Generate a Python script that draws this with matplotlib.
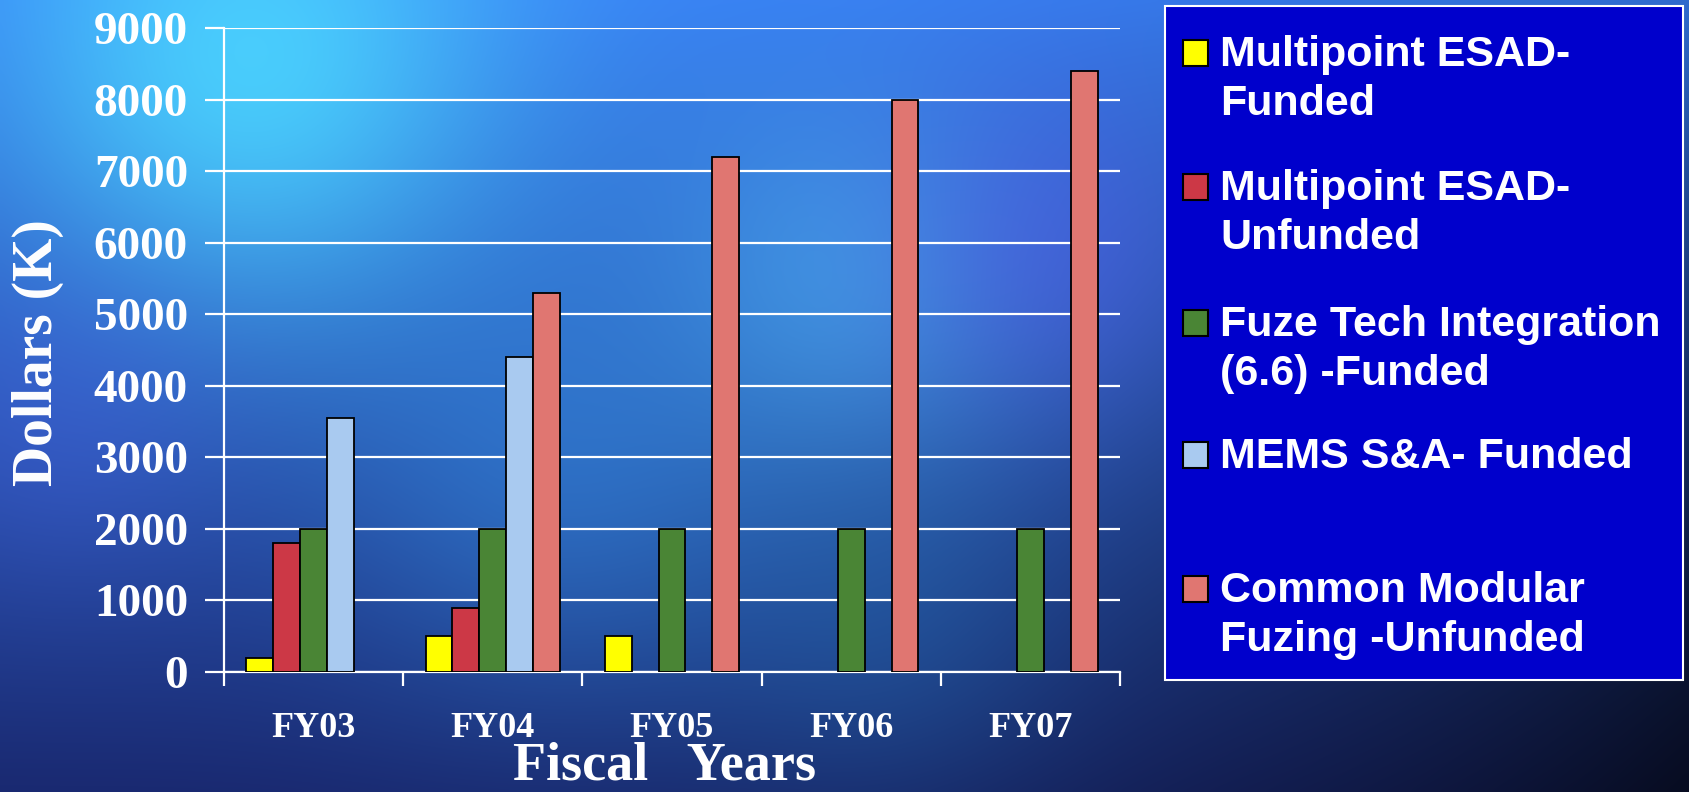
import numpy as np
import matplotlib
matplotlib.use("Agg")
import matplotlib.pyplot as plt
from matplotlib.patches import Rectangle

W, H = 1689, 792

years = ["FY03", "FY04", "FY05", "FY06", "FY07"]
series = ["Multipoint ESAD-\nFunded",
          "Multipoint ESAD-\nUnfunded",
          "Fuze Tech Integration\n(6.6) -Funded",
          "MEMS S&A- Funded",
          "Common Modular\nFuzing -Unfunded"]
esad_funded = [200, 500, 500, 0, 0]
esad_unfunded = [1800, 900, 0, 0, 0]
fuze_tech = [2000, 2000, 2000, 2000, 2000]
mems = [3550, 4400, 0, 0, 0]
cmf = [0, 5300, 7200, 8000, 8400]
colors = ["#FFFF00", "#CC3846", "#4A8535", "#A9CAF0", "#E07671"]

# legend row anchors (px from top): first-line baseline of each entry
LEG_BASE = [66, 200, 336, 468, 602]
LEG_STEP = 49

plt.rcParams["font.family"] = ["Liberation Serif", "DejaVu Serif"]
plt.rcParams["font.weight"] = "bold"


def fx(x):
    return x / W


def fy(y):
    return 1 - y / H


def background():
    yy, xx = np.mgrid[0:H:4, 0:W:4].astype(float)
    t = (yy / H)[..., None]
    top = np.array([0.22, 0.50, 0.96])
    bot = np.array([0.10, 0.16, 0.44])
    img = top * (1 - t) + bot * t
    img = img * (1 - 0.55 * (xx / W)[..., None] ** 3 * (0.3 + t))
    blobs = [(250, 60, 180, (0.30, 0.86, 1.0), 0.85),
             (850, 290, 140, (0.33, 0.78, 1.0), 0.50),
             (560, 470, 160, (0.22, 0.62, 0.95), 0.40),
             (1050, 250, 120, (0.33, 0.35, 0.92), 0.45),
             (60, 420, 120, (0.28, 0.38, 0.90), 0.35),
             (880, 620, 130, (0.15, 0.45, 0.72), 0.35)]
    for cx, cy, s, c, w in blobs:
        a = (w * np.exp(-((xx - cx) ** 2 + (yy - cy) ** 2) / (2 * s ** 2)))[..., None]
        img = img * (1 - a) + np.array(c) * a
    return np.clip(img, 0, 1)


fig = plt.figure(figsize=(W / 100, H / 100), dpi=100)
bg = fig.add_axes([0, 0, 1, 1], zorder=-5)
bg.imshow(background(), aspect="auto", interpolation="bicubic", extent=[0, 1, 0, 1])
bg.axis("off")

ax = fig.add_axes([fx(224), fy(672), (1120 - 224) / W, (672 - 28) / H])
ax.set_facecolor("none")
ax.set_xlim(-0.5, 4.5)
ax.set_ylim(0, 9000)
ax.set_yticks(range(0, 9001, 1000))
ax.yaxis.grid(True, color="white", lw=1.6)
ax.set_axisbelow(True)
for s in ("top", "right"):
    ax.spines[s].set_visible(False)
for s in ("left", "bottom"):
    ax.spines[s].set_color("white")
    ax.spines[s].set_linewidth(1.6)
ax.set_xticks(np.arange(-0.5, 5, 1))
ax.set_xticklabels([])
ax.set_xticks(range(len(years)), minor=True)
ax.set_xticklabels(years, minor=True)
ax.tick_params(axis="x", which="major", length=10, width=1.6, color="white")
ax.tick_params(axis="x", which="minor", length=0, pad=29, labelsize=26, labelcolor="white")
ax.tick_params(axis="y", length=14, width=1.6, color="white", pad=12, labelsize=34,
               labelcolor="white")

bw = 0.15
x = np.arange(len(years))
for i, (vals, col) in enumerate(zip([esad_funded, esad_unfunded, fuze_tech, mems, cmf], colors)):
    v = np.array(vals, dtype=float)
    m = v > 0
    ax.bar(x[m] + (i - 2) * bw, v[m], bw, color=col, edgecolor="black", lw=1.3, zorder=3)

fig.text(fx(665), fy(779), "Fiscal   Years", ha="center", va="baseline", size=39, color="white")
fig.text(fx(38), fy(353), "Dollars (K)", ha="center", va="center", rotation=90, size=40,
         color="white")

# legend panel
fig.patches.append(Rectangle((fx(1165), fy(680)), (1683 - 1165) / W, (680 - 6) / H,
                             transform=fig.transFigure, facecolor="#0000CC",
                             edgecolor="white", lw=1.5, zorder=1))
for lab, col, yb in zip(series, colors, LEG_BASE):
    fig.patches.append(Rectangle((fx(1183), fy(yb)), 25 / W, 26 / H,
                                 transform=fig.transFigure, facecolor=col,
                                 edgecolor="black", lw=1.5, zorder=2))
    for k, line in enumerate(lab.split("\n")):
        fig.text(fx(1220), fy(yb + k * LEG_STEP), line, va="baseline", ha="left",
                 family=["Liberation Sans", "DejaVu Sans"], weight="bold", size=31,
                 color="white", zorder=3)

fig.savefig("out.png", dpi=100)
